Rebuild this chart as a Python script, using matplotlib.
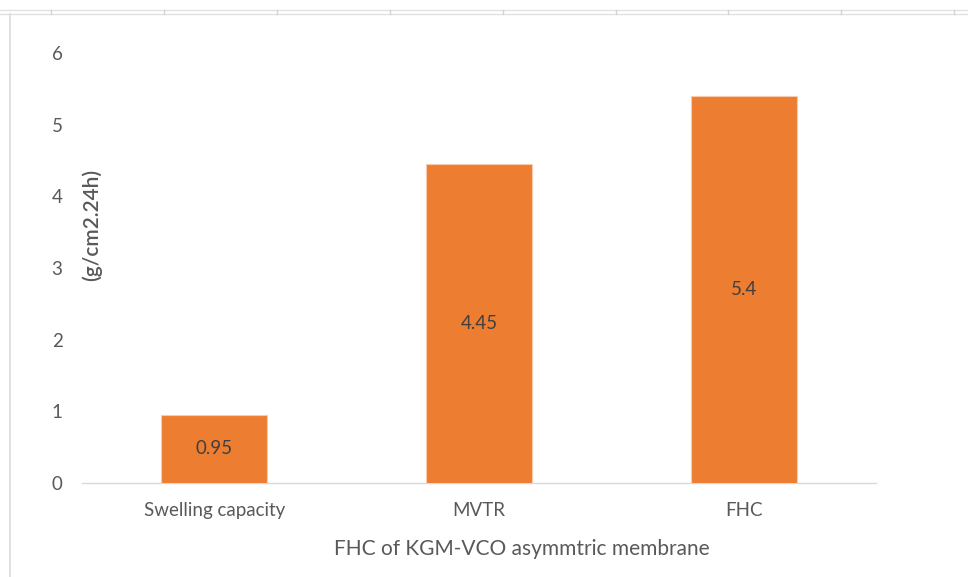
import numpy as np
import matplotlib.pyplot as plt
from matplotlib.lines import Line2D

# ------------------------------------------------------------
# DATA
# ------------------------------------------------------------
categories = ["Swelling capacity", "MVTR", "FHC"]
values = [0.95, 4.45, 5.4]
y_ticks = [0, 1, 2, 3, 4, 5, 6]

BAR_COLOR = "#ED7D31"
EDGE_COLOR = "#F8CBAD"
TEXT_GRAY = "#595959"
LABEL_GRAY = "#404040"
AXIS_GRAY = "#D9D9D9"

plt.rcParams["font.family"] = ["Lato", "DejaVu Sans"]

W, H = 968, 577
fig = plt.figure(figsize=(W / 100, H / 100), dpi=100)
fig.patch.set_facecolor("white")


def fx(px):
    return px / W


def fy(py):
    return 1 - py / H


# sheet cell lines behind the chart object
for y in (9.5, 14):
    fig.add_artist(Line2D([0, 1], [fy(y), fy(y)], color="#E1E1E1", lw=1.0))
for x in np.arange(51, W, 112.9):
    fig.add_artist(Line2D([fx(x), fx(x)], [fy(9.5), fy(14)], color="#D4D4D4", lw=1.0))
fig.add_artist(Line2D([fx(9.5), fx(9.5)], [fy(14), 0], color="#DADADA", lw=1.2))

# plot area: x 82..876, y 53..483 (0..6)
ax = fig.add_axes([fx(82), fy(483), fx(876 - 82), (483 - 53) / H])
x = np.arange(len(categories))
bars = ax.bar(x, values, width=0.40, color=BAR_COLOR, edgecolor=EDGE_COLOR, linewidth=0.8, zorder=3)

for b, v in zip(bars, values):
    ax.text(b.get_x() + b.get_width() / 2, v / 2, f"{v:g}", ha="center", va="center",
            fontsize=13.5, color=LABEL_GRAY, zorder=4)

ax.set_xlim(-0.5, len(categories) - 0.5)
ax.set_ylim(0, 6)
ax.set_yticks(y_ticks)
ax.set_xticks(x)
ax.set_xticklabels(categories)
ax.tick_params(axis="x", length=0, pad=14, labelsize=13.5, labelcolor=TEXT_GRAY)
ax.tick_params(axis="y", length=0, pad=14, labelsize=13.5, labelcolor=TEXT_GRAY)

for side in ("top", "right", "left"):
    ax.spines[side].set_visible(False)
ax.spines["bottom"].set_color(AXIS_GRAY)
ax.spines["bottom"].set_linewidth(1.0)

fig.text(fx(522), fy(549), "FHC of KGM-VCO asymmtric membrane", ha="center", va="center",
         fontsize=15, color=TEXT_GRAY)
fig.text(fx(92), fy(225), "(g/cm2.24h)", ha="center", va="center", rotation=90,
         fontsize=15, color=TEXT_GRAY, fontweight="semibold")

fig.savefig("out.png", dpi=100)
